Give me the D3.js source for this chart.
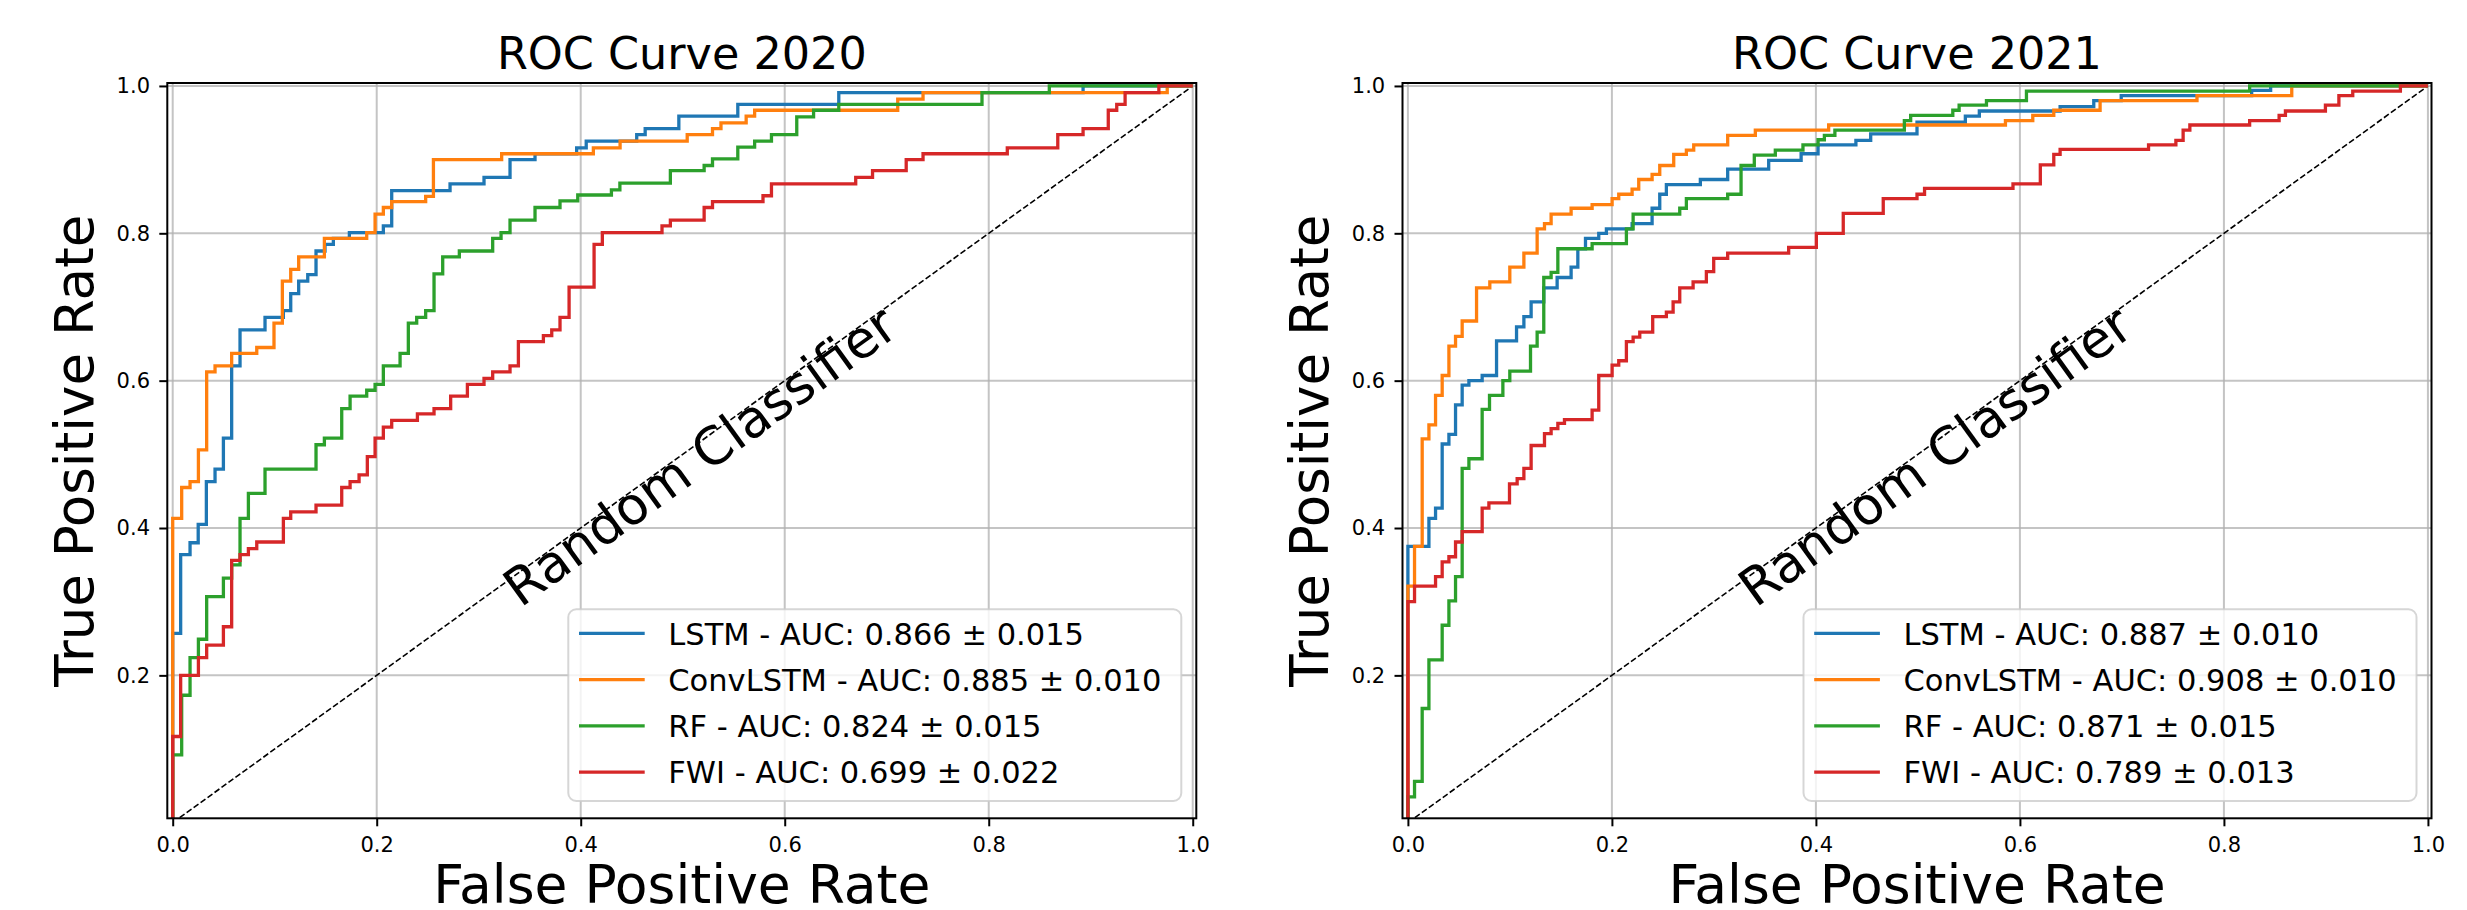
<!DOCTYPE html>
<html>
<head>
<meta charset="utf-8">
<script src="https://cdn.jsdelivr.net/npm/d3@7"></script>
<style>
  body { margin: 0; background: #fff; }
  svg { display: block; }
  text { font-family: "DejaVu Sans", sans-serif; fill: #000; }
</style>
</head>
<body>
<script>
// ROC step curves: each (fpr[i], tpr[i]) is the point where the curve jumps up
const fpr2020Lstm = [0, 0, 0.0078, 0.017, 0.025, 0.033, 0.0415, 0.0497, 0.0578, 0.066, 0.0905, 0.1085, 0.1157, 0.1235, 0.1324, 0.1405, 0.1493, 0.1575, 0.1732, 0.2065, 0.2147, 0.2719, 0.3052, 0.3307, 0.3552, 0.396, 0.4054, 0.4549, 0.4632, 0.4962, 0.554, 0.653, 0.8925, 1];
const tpr2020Lstm = [0, 0.257, 0.364, 0.380, 0.405, 0.463, 0.480, 0.522, 0.620, 0.669, 0.686, 0.695, 0.718, 0.735, 0.744, 0.776, 0.785, 0.793, 0.801, 0.810, 0.858, 0.867, 0.876, 0.900, 0.908, 0.916, 0.925, 0.934, 0.942, 0.959, 0.975, 0.991, 1, 1];

const fpr2020Conv = [0, 0, 0.0088, 0.017, 0.0252, 0.0333, 0.0415, 0.0578, 0.0824, 0.0993, 0.1075, 0.1157, 0.1235, 0.1487, 0.1902, 0.1984, 0.2065, 0.2147, 0.248, 0.2556, 0.3225, 0.4124, 0.4386, 0.5044, 0.5292, 0.5375, 0.5622, 0.5705, 0.7108, 0.7356, 0.975, 1];
const tpr2020Conv = [0, 0.413, 0.455, 0.463, 0.506, 0.612, 0.620, 0.637, 0.645, 0.678, 0.735, 0.751, 0.768, 0.793, 0.801, 0.826, 0.835, 0.843, 0.850, 0.900, 0.908, 0.916, 0.925, 0.934, 0.942, 0.950, 0.959, 0.967, 0.982, 0.991, 1, 1];

const fpr2020Rf = [0, 0, 0.0088, 0.017, 0.0252, 0.0333, 0.0497, 0.0578, 0.066, 0.0742, 0.0905, 0.1405, 0.1487, 0.1657, 0.1739, 0.1902, 0.1984, 0.2065, 0.2229, 0.231, 0.2392, 0.248, 0.2562, 0.2647, 0.281, 0.3137, 0.3219, 0.3307, 0.3552, 0.3797, 0.3971, 0.4301, 0.4384, 0.4879, 0.521, 0.5292, 0.554, 0.5705, 0.587, 0.6118, 0.6283, 0.653, 0.7934, 0.8594, 1];
const tpr2020Rf = [0, 0.092, 0.173, 0.224, 0.249, 0.307, 0.332, 0.350, 0.413, 0.447, 0.480, 0.513, 0.522, 0.562, 0.579, 0.587, 0.595, 0.620, 0.637, 0.678, 0.686, 0.695, 0.745, 0.768, 0.776, 0.793, 0.801, 0.818, 0.835, 0.844, 0.852, 0.859, 0.868, 0.885, 0.892, 0.901, 0.917, 0.925, 0.934, 0.958, 0.967, 0.975, 0.991, 1, 1];

const fpr2020Fwi = [0, 0, 0.0078, 0.0252, 0.0333, 0.0497, 0.0578, 0.066, 0.0742, 0.0824, 0.1085, 0.1157, 0.1405, 0.1657, 0.1739, 0.1827, 0.1908, 0.1984, 0.2065, 0.2147, 0.2399, 0.2562, 0.2725, 0.2889, 0.3052, 0.3137, 0.3307, 0.3389, 0.3634, 0.3716, 0.3797, 0.3886, 0.4131, 0.4212, 0.4797, 0.4879, 0.521, 0.5292, 0.5787, 0.587, 0.6696, 0.6861, 0.7191, 0.7356, 0.8182, 0.8677, 0.8925, 0.9172, 0.9255, 0.9337, 0.9668, 1];
const tpr2020Fwi = [0, 0.117, 0.200, 0.224, 0.241, 0.266, 0.356, 0.364, 0.372, 0.381, 0.413, 0.422, 0.431, 0.455, 0.463, 0.472, 0.497, 0.522, 0.537, 0.546, 0.555, 0.562, 0.579, 0.595, 0.603, 0.612, 0.620, 0.653, 0.661, 0.669, 0.686, 0.727, 0.785, 0.801, 0.810, 0.818, 0.835, 0.843, 0.851, 0.867, 0.876, 0.885, 0.900, 0.908, 0.916, 0.934, 0.942, 0.967, 0.975, 0.991, 1, 1];

const fpr2021Lstm = [0, 0, 0.0206, 0.0271, 0.0336, 0.0402, 0.0467, 0.0532, 0.0598, 0.0728, 0.0869, 0.1065, 0.1137, 0.1208, 0.1332, 0.1463, 0.16, 0.1666, 0.1741, 0.1871, 0.1946, 0.2198, 0.2394, 0.2469, 0.2534, 0.2867, 0.3135, 0.3537, 0.3855, 0.4021, 0.4392, 0.4537, 0.4991, 0.5465, 0.5602, 0.6394, 0.6724, 0.6993, 0.8272, 0.8458, 1];
const tpr2021Lstm = [0, 0.375, 0.413, 0.427, 0.514, 0.527, 0.567, 0.594, 0.600, 0.607, 0.654, 0.673, 0.687, 0.707, 0.726, 0.740, 0.754, 0.779, 0.793, 0.800, 0.806, 0.813, 0.834, 0.853, 0.866, 0.873, 0.887, 0.899, 0.908, 0.920, 0.926, 0.935, 0.951, 0.959, 0.966, 0.972, 0.980, 0.987, 0.994, 1, 1];

const fpr2021Conv = [0, 0, 0.0065, 0.014, 0.0206, 0.0271, 0.0336, 0.0402, 0.0467, 0.0532, 0.0673, 0.0803, 0.0999, 0.1137, 0.1267, 0.1339, 0.1404, 0.16, 0.1806, 0.2002, 0.2067, 0.2198, 0.2263, 0.2394, 0.2469, 0.2606, 0.273, 0.2802, 0.3135, 0.3406, 0.4125, 0.5858, 0.6126, 0.6332, 0.6786, 0.7736, 0.8665, 1];
const tpr2021Conv = [0, 0.321, 0.375, 0.521, 0.540, 0.580, 0.607, 0.647, 0.660, 0.681, 0.726, 0.734, 0.754, 0.773, 0.806, 0.813, 0.826, 0.834, 0.839, 0.847, 0.853, 0.860, 0.873, 0.880, 0.892, 0.907, 0.913, 0.920, 0.933, 0.940, 0.947, 0.953, 0.960, 0.967, 0.980, 0.987, 1, 1];

const fpr2021Rf = [0, 0, 0.0065, 0.014, 0.0206, 0.0336, 0.0402, 0.0467, 0.0532, 0.0598, 0.0728, 0.08, 0.0931, 0.0999, 0.1202, 0.1267, 0.1332, 0.1404, 0.147, 0.1806, 0.2142, 0.2208, 0.2665, 0.273, 0.3135, 0.3266, 0.3396, 0.3602, 0.3873, 0.4021, 0.4083, 0.4186, 0.4867, 0.4929, 0.5342, 0.5404, 0.5672, 0.6064, 0.8252, 1];
const tpr2021Rf = [0, 0.035, 0.056, 0.155, 0.221, 0.268, 0.301, 0.334, 0.481, 0.494, 0.561, 0.580, 0.600, 0.613, 0.647, 0.666, 0.740, 0.747, 0.779, 0.786, 0.806, 0.826, 0.834, 0.847, 0.853, 0.892, 0.906, 0.913, 0.920, 0.927, 0.933, 0.940, 0.953, 0.960, 0.967, 0.974, 0.980, 0.993, 1, 1];

const fpr2021Fwi = [0, 0, 0.0065, 0.0271, 0.0336, 0.0402, 0.0467, 0.0532, 0.0728, 0.0794, 0.0996, 0.1071, 0.1137, 0.1208, 0.1339, 0.1404, 0.147, 0.1535, 0.1806, 0.1871, 0.2002, 0.2067, 0.2142, 0.2208, 0.2273, 0.24, 0.2534, 0.26, 0.2665, 0.2796, 0.2926, 0.2998, 0.3135, 0.3733, 0.4004, 0.4268, 0.466, 0.4991, 0.5065, 0.5932, 0.62, 0.6332, 0.6394, 0.7261, 0.7529, 0.76, 0.7666, 0.8252, 0.8541, 0.8603, 0.8995, 0.9127, 0.9263, 0.973, 1];
const tpr2021Fwi = [0, 0.300, 0.321, 0.334, 0.354, 0.361, 0.381, 0.395, 0.427, 0.434, 0.460, 0.467, 0.481, 0.512, 0.528, 0.535, 0.542, 0.547, 0.560, 0.607, 0.621, 0.627, 0.653, 0.659, 0.666, 0.687, 0.693, 0.707, 0.726, 0.734, 0.748, 0.766, 0.773, 0.781, 0.800, 0.827, 0.847, 0.853, 0.861, 0.867, 0.893, 0.907, 0.914, 0.920, 0.926, 0.940, 0.947, 0.953, 0.960, 0.966, 0.974, 0.987, 0.993, 1, 1];

const models = ['LSTM', 'ConvLSTM', 'RF', 'FWI'];
const colors = ['#1f77b4', '#ff7f0e', '#2ca02c', '#d62728'];
const auc2020 = ['0.866 \u00b1 0.015', '0.885 \u00b1 0.010', '0.824 \u00b1 0.015', '0.699 \u00b1 0.022'];
const auc2021 = ['0.887 \u00b1 0.010', '0.908 \u00b1 0.010', '0.871 \u00b1 0.015', '0.789 \u00b1 0.013'];
const xTicks = [0, 0.2, 0.4, 0.6, 0.8, 1.0];
const yTicks = [0.2, 0.4, 0.6, 0.8, 1.0];

const panels = [
  { title: 'ROC Curve 2020', left: 167.3, auc: auc2020,
    fpr: [fpr2020Lstm, fpr2020Conv, fpr2020Rf, fpr2020Fwi],
    tpr: [tpr2020Lstm, tpr2020Conv, tpr2020Rf, tpr2020Fwi] },
  { title: 'ROC Curve 2021', left: 1402.5, auc: auc2021,
    fpr: [fpr2021Lstm, fpr2021Conv, fpr2021Rf, fpr2021Fwi],
    tpr: [tpr2021Lstm, tpr2021Conv, tpr2021Rf, tpr2021Fwi] }
];

const w = 2467;
const h = 910;
const axW = 1029;
const axTop = 83;
const axBottom = 818.3;

const svg = d3.select('body')
  .append('svg')
  .attr('width', w)
  .attr('height', h);

panels.forEach((p, pi) => {
  const x = d3.scaleLinear().domain([-0.0053, 1.0035]).range([p.left, p.left + axW]);
  const y = d3.scaleLinear().domain([0.006, 1.004]).range([axBottom, axTop]);
  const g = svg.append('g');

  // clip curves to the axes box
  const clipId = 'clip' + pi;
  g.append('clipPath').attr('id', clipId)
    .append('rect')
    .attr('x', p.left).attr('y', axTop)
    .attr('width', axW).attr('height', axBottom - axTop);

  // grid
  g.append('g').selectAll('line').data(xTicks).join('line')
    .attr('x1', (d) => x(d)).attr('x2', (d) => x(d))
    .attr('y1', axTop).attr('y2', axBottom)
    .attr('stroke', '#b0b0b0').attr('stroke-opacity', 0.75).attr('stroke-width', 2);
  g.append('g').selectAll('line').data(yTicks).join('line')
    .attr('x1', p.left).attr('x2', p.left + axW)
    .attr('y1', (d) => y(d)).attr('y2', (d) => y(d))
    .attr('stroke', '#b0b0b0').attr('stroke-opacity', 0.75).attr('stroke-width', 2);

  const plot = g.append('g').attr('clip-path', 'url(#' + clipId + ')');

  // random classifier diagonal
  plot.append('line')
    .attr('x1', x(0)).attr('y1', y(0))
    .attr('x2', x(1)).attr('y2', y(1))
    .attr('stroke', '#000').attr('stroke-width', 1.6)
    .attr('stroke-dasharray', '6,2.6');

  // ROC curves
  const line = d3.line()
    .x((d) => x(d[0]))
    .y((d) => y(d[1]))
    .curve(d3.curveStepAfter);
  models.forEach((m, i) => {
    plot.append('path')
      .datum(d3.zip(p.fpr[i], p.tpr[i]))
      .attr('d', line)
      .attr('fill', 'none')
      .attr('stroke', colors[i])
      .attr('stroke-width', 3.3)
      .attr('stroke-linejoin', 'miter');
  });

  // axes
  const xAxis = d3.axisBottom(x).tickValues(xTicks).tickFormat(d3.format('.1f'))
    .tickSize(8).tickPadding(10.5);
  const gx = g.append('g').attr('transform', 'translate(0,' + axBottom + ')').call(xAxis);
  const yAxis = d3.axisLeft(y).tickValues(yTicks).tickFormat(d3.format('.1f'))
    .tickSize(8).tickPadding(9.3);
  const gy = g.append('g').attr('transform', 'translate(' + p.left + ',0)').call(yAxis);
  [gx, gy].forEach((a) => {
    a.select('.domain').remove();
    a.selectAll('line').attr('stroke', '#000').attr('stroke-width', 2);
    a.selectAll('text').attr('font-size', 21).attr('font-family', '"DejaVu Sans", sans-serif').attr('fill', '#000');
  });

  // spines
  g.append('rect')
    .attr('x', p.left).attr('y', axTop)
    .attr('width', axW).attr('height', axBottom - axTop)
    .attr('fill', 'none').attr('stroke', '#000').attr('stroke-width', 2);

  // text along the diagonal
  g.append('text')
    .attr('transform', 'translate(' + x(0.341) + ',' + y(0.291) + ') rotate(-35.9)')
    .attr('font-size', 52)
    .text('Random Classifier');

  // titles and labels
  const cx = p.left + axW / 2;
  g.append('text')
    .attr('x', cx).attr('y', 69.3)
    .attr('text-anchor', 'middle').attr('font-size', 44.5)
    .text(p.title);
  g.append('text')
    .attr('x', cx).attr('y', 903)
    .attr('text-anchor', 'middle').attr('font-size', 53.5)
    .text('False Positive Rate');
  g.append('text')
    .attr('transform', 'translate(' + (p.left - 74.3) + ',' + ((axTop + axBottom) / 2) + ') rotate(-90)')
    .attr('text-anchor', 'middle').attr('font-size', 53)
    .text('True Positive Rate');

  // legend, lower right
  const lg = g.append('g').attr('transform', 'translate(' + (p.left + axW - 628) + ',609.3)');
  lg.append('rect')
    .attr('width', 613).attr('height', 191.7)
    .attr('rx', 8).attr('ry', 8)
    .attr('fill', '#fff').attr('fill-opacity', 0.8)
    .attr('stroke', '#cccccc').attr('stroke-opacity', 0.8).attr('stroke-width', 2);
  models.forEach((m, i) => {
    lg.append('line')
      .attr('x1', 10.7).attr('x2', 76.4)
      .attr('y1', 24 + i * 46.3).attr('y2', 24 + i * 46.3)
      .attr('stroke', colors[i]).attr('stroke-width', 3.3);
    lg.append('text')
      .attr('x', 100).attr('y', 35.7 + i * 46.1)
      .attr('font-size', 30.5)
      .text(m + ' - AUC: ' + p.auc[i]);
  });
});
</script>
</body>
</html>
